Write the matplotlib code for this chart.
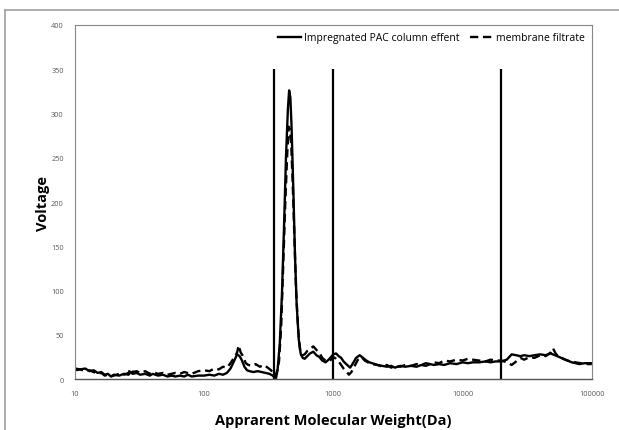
import numpy as np
import matplotlib.pyplot as plt
from matplotlib.lines import Line2D

# molecular weight (Da) and detector voltage
mw_pac = [10, 11, 12, 13, 14, 15, 16, 17, 18, 19, 20, 22, 24, 26, 27, 28, 30, 32, 35, 38,
          40, 44, 48, 52, 56, 60, 65, 70, 75, 80, 90, 100, 110, 120, 130, 140, 150, 160,
          170, 180, 188, 195, 205, 215, 225, 240, 260, 280, 300, 320, 340, 350, 360, 370,
          385, 400, 415, 430, 445, 455, 465, 475, 490, 505, 520, 540, 560, 580, 600, 630,
          660, 700, 740, 780, 820, 870, 920, 960, 1000, 1050, 1100, 1150, 1200, 1280, 1350,
          1420, 1500, 1600, 1700, 1800, 1900, 2000, 2200, 2400, 2600, 2800, 3000, 3300,
          3600, 4000, 4400, 4800, 5200, 5600, 6000, 6600, 7200, 8000, 9000, 10000, 11000,
          12000, 13500, 15000, 16500, 18000, 20000, 22000, 24000, 26000, 28000, 30000,
          33000, 36000, 40000, 44000, 48000, 52000, 56000, 60000, 65000, 70000, 75000,
          80000, 88000, 100000]
v_pac = [12, 11, 12, 9, 10, 7, 8, 5, 6, 3, 5, 4, 6, 5, 8, 6, 7, 5, 6, 4,
         6, 4, 5, 3, 4, 3, 4, 3, 5, 3, 4, 4, 5, 4, 6, 5, 7, 12,
         20, 28, 26, 22, 14, 10, 9, 8, 9, 8, 7, 6, 4, 2, 1, 10,
         40, 95, 170, 250, 305, 326, 318, 285, 215, 140, 85, 45, 28, 24, 23, 26,
         29, 31, 27, 25, 21, 19, 22, 25, 28, 29, 26, 24, 20, 16, 13,
         18, 24, 27, 24, 21, 19, 18, 16, 15, 14, 15, 13, 15,
         14, 15, 14, 16, 15, 17, 16, 17, 16, 18, 17, 19, 18,
         19, 19, 20, 19, 20, 20, 22, 28, 27, 26, 27,
         26, 27, 28, 27, 29, 27, 25, 23, 21, 19, 18,
         17, 18, 18]

mw_mem = [10, 11, 12, 13, 14, 15, 16, 17, 18, 19, 20, 22, 24, 26, 27, 28, 30, 32, 35, 38,
          40, 44, 48, 52, 56, 60, 65, 70, 75, 80, 90, 100, 110, 120, 130, 140, 150, 160,
          170, 180, 185, 192, 200, 210, 220, 235, 250, 270, 290, 310, 330, 345, 355, 365,
          380, 395, 410, 425, 440, 452, 462, 472, 485, 500, 515, 535, 555, 575, 600, 630,
          660, 700, 740, 780, 820, 870, 920, 960, 1000, 1050, 1100, 1150, 1200, 1260, 1320,
          1380, 1450, 1550, 1650, 1750, 1850, 2000, 2200, 2400, 2600, 2800, 3000, 3300,
          3600, 4000, 4400, 4800, 5200, 5600, 6000, 6600, 7200, 8000, 9000, 10000, 11000,
          12000, 13500, 15000, 16500, 18000, 20000, 22000, 24000, 26000, 28000, 30000,
          33000, 36000, 40000, 44000, 48000, 50000, 53000, 57000, 62000, 68000, 75000,
          82000, 90000, 100000]
v_mem = [10, 11, 9, 10, 8, 6, 7, 4, 5, 3, 4, 6, 5, 7, 12, 8, 9, 7, 9, 6,
         8, 6, 7, 5, 6, 7, 6, 8, 7, 6, 9, 10, 9, 12, 11, 14, 13, 18,
         24, 30, 38, 30, 26, 18, 16, 15, 17, 14, 16, 13, 10, 6, 3, 8,
         20, 60, 130, 200, 255, 285, 282, 265, 220, 160, 100, 55, 30, 27, 28, 32,
         34, 37, 33, 30, 24, 21, 20, 22, 25, 23, 20, 16, 12, 9, 5,
         8, 14, 22, 25, 21, 19, 17, 16, 14, 16, 13, 15, 14,
         16, 15, 17, 16, 18, 17, 19, 18, 21, 20, 22, 21, 23,
         22, 21, 20, 22, 21, 21, 19, 16, 20, 24, 22,
         25, 24, 27, 26, 30, 35, 28, 25, 22, 20, 19,
         18, 17, 17]

cutoffs = [350, 1000, 20000]
cutoff_top = 350

plt.rcParams['font.family'] = ['Open Sans', 'DejaVu Sans']

fig = plt.figure(figsize=(6.19, 4.31), dpi=100)
ax = fig.add_axes([0.121, 0.118, 0.835, 0.822])

ax.plot(mw_pac, v_pac, color='black', lw=1.7, label='Impregnated PAC column effent')
ax.plot(mw_mem, v_mem, color='black', lw=1.7, ls=(0, (3.5, 2)), label='membrane filtrate')
ax.vlines(cutoffs, 0, cutoff_top, color='black', lw=1.6)

ax.set_xscale('log')
ax.set_xlim(10, 100000)
ax.set_ylim(0, 400)
ax.set_yticks(np.arange(0, 401, 50))
ax.set_xticks([10, 100, 1000, 10000, 100000])
ax.set_xticklabels(['10', '100', '1000', '10000', '100000'])
ax.minorticks_off()
ax.tick_params(length=0, labelsize=5.3, labelcolor='#595959', pad=8)

for s in ['top', 'right', 'left']:
    ax.spines[s].set_color('#868686')
    ax.spines[s].set_linewidth(0.8)
ax.spines['bottom'].set_color('#555555')
ax.spines['bottom'].set_linewidth(1.0)

ax.set_xlabel('Apprarent Molecular Weight(Da)', fontsize=10.5, fontweight='bold', labelpad=11)
ax.set_ylabel('Voltage', fontsize=10.5, fontweight='bold', labelpad=1)

ax.legend(loc='upper right', ncol=2, frameon=False, fontsize=7.5, handlelength=2.2,
          handletextpad=0.3, columnspacing=1.0, borderaxespad=0.3)

# outer chart frame
fig.add_artist(Line2D([5 / 619, 5 / 619], [0, 1 - 11 / 431], color='#a0a0a0', lw=1.2))
fig.add_artist(Line2D([5 / 619, 1], [1 - 11 / 431, 1 - 11 / 431], color='#a0a0a0', lw=1.2))

fig.savefig('out.png', dpi=100)
